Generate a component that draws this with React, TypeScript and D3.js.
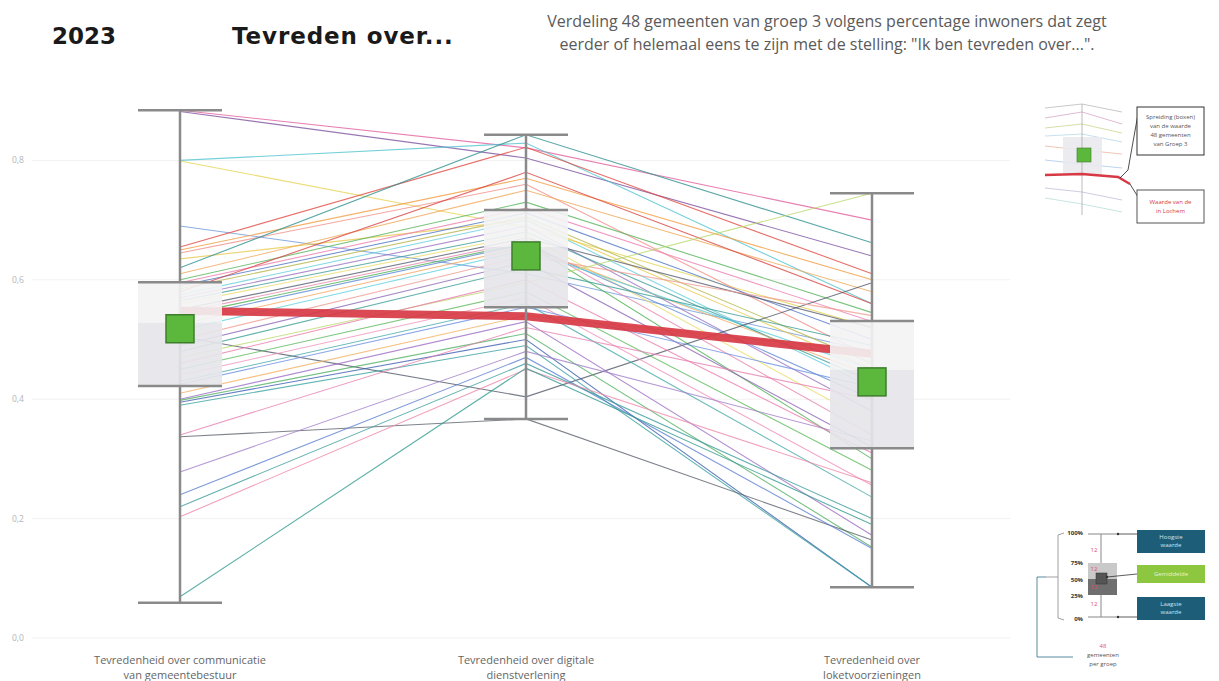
import React from "react";
import { scaleLinear, scalePoint, line } from "d3";

const width = 1219;
const height = 681;

// de drie stellingen
const categories = [
  "Tevredenheid over communicatie|van gemeentebestuur",
  "Tevredenheid over digitale|dienstverlening",
  "Tevredenheid over|loketvoorzieningen",
];

const yTicks = [0, 0.2, 0.4, 0.6, 0.8];

const minValues = [0.059, 0.367, 0.085];
const q1Values = [0.422, 0.554, 0.318];
const medianValues = [0.528, 0.655, 0.449];
const q3Values = [0.596, 0.717, 0.531];
const maxValues = [0.884, 0.843, 0.745];
const meanValues = [0.518, 0.64, 0.429];

// eigen gemeente (dikke rode lijn)
const ownValues = [0.548, 0.539, 0.476];

// 48 gemeenten: [communicatie, digitaal, loket]
const gemeenten: number[][] = [
  [0.884, 0.821, 0.7],
  [0.882, 0.804, 0.64],
  [0.8, 0.829, 0.56],
  [0.799, 0.688, 0.52],
  [0.69, 0.61, 0.48],
  [0.655, 0.822, 0.61],
  [0.65, 0.77, 0.6],
  [0.645, 0.76, 0.47],
  [0.635, 0.7, 0.45],
  [0.62, 0.843, 0.662],
  [0.61, 0.75, 0.58],
  [0.6, 0.73, 0.545],
  [0.595, 0.72, 0.53],
  [0.59, 0.712, 0.5],
  [0.585, 0.705, 0.46],
  [0.58, 0.78, 0.56],
  [0.575, 0.7, 0.42],
  [0.57, 0.69, 0.38],
  [0.565, 0.68, 0.43],
  [0.56, 0.675, 0.36],
  [0.55, 0.67, 0.52],
  [0.545, 0.665, 0.34],
  [0.54, 0.662, 0.3],
  [0.535, 0.66, 0.4],
  [0.525, 0.655, 0.44],
  [0.515, 0.65, 0.45],
  [0.505, 0.404, 0.595],
  [0.5, 0.64, 0.54],
  [0.49, 0.63, 0.32],
  [0.48, 0.62, 0.49],
  [0.47, 0.595, 0.745],
  [0.46, 0.6, 0.31],
  [0.45, 0.58, 0.281],
  [0.44, 0.57, 0.256],
  [0.43, 0.56, 0.236],
  [0.425, 0.554, 0.42],
  [0.41, 0.54, 0.48],
  [0.4, 0.53, 0.172],
  [0.398, 0.51, 0.152],
  [0.395, 0.5, 0.085],
  [0.39, 0.49, 0.085],
  [0.34, 0.52, 0.4],
  [0.337, 0.367, 0.164],
  [0.278, 0.48, 0.33],
  [0.24, 0.47, 0.15],
  [0.22, 0.46, 0.2],
  [0.203, 0.45, 0.26],
  [0.069, 0.452, 0.19],
];

const lineColors = [
  "#e25c9c", "#7b4f9e", "#4fc3cf", "#e6d450", "#6d97d8", "#e0483f",
  "#f29a3e", "#ef8c84", "#e8c84a", "#2f8f8f", "#f0a858", "#55b35a",
  "#ec7fb0", "#4a72c4", "#b5b548", "#d9423f", "#63cddb", "#9a73c0",
  "#3c9a9a", "#e9dc6a", "#555c6e", "#e886ad", "#4caf50", "#5b86d4",
  "#f4a65c", "#5ad0dc", "#4d5566", "#f09a90", "#8c67b5", "#3a9d95",
  "#b9d86a", "#ea7aa8", "#5cb85c", "#f08fb8", "#45a8a8", "#6a8fe0",
  "#f3b060", "#9b6cc4", "#4fb061", "#3c5fb0", "#3aa0a0", "#e77fb0",
  "#5a5f6a", "#a07cc8", "#5b7ed0", "#3a9a9a", "#ee86a8", "#2f9a90",
];

const legendTopText = ["Spreiding (boxen)", "van de waarde", "48 gemeenten", "van Groep 3"];
const legendRedText = ["Waarde van de", "in Lochem"];
const legendPct = ["100%", "75%", "50%", "25%", "0%"];
const legendBoxes = [
  ["Hoogste", "waarde"],
  ["Gemiddelde"],
  ["Laagste", "waarde"],
];

const x = scalePoint<string>().domain(categories).range([180, 872]);
const y = scaleLinear().domain([0, 1]).range([638, 41]);

const pathOf = line<number>()
  .x((_, i) => x(categories[i]) as number)
  .y((d) => y(d));

const boxHalf = 42;
const fontSans = "'Open Sans', 'Liberation Sans', sans-serif";

const Legends = () => {
  // kleine versie van de grafiek rechtsboven
  const miniLines = [
    [108, 104, 112], [118, 112, 124], [128, 124, 133], [136, 134, 142],
    [146, 150, 154], [160, 164, 168], [188, 192, 200], [198, 204, 212],
  ];
  const miniColors = ["#bbb", "#d8a8c8", "#c8d890", "#b8d8e8", "#e8b8a0", "#a8c8e8", "#c0c0d8", "#b8e0d8"];
  const pctY = [533, 563, 580, 596, 619];
  return (
    <g fontFamily={fontSans}>
      {miniLines.map((l, i) => (
        <polyline
          key={i}
          points={`1045,${l[0]} 1082,${l[1]} 1122,${l[2]}`}
          fill="none"
          stroke={miniColors[i]}
          strokeWidth={0.8}
        />
      ))}
      <rect x={1063} y={137} width={39} height={38} fill="#e9e9ee" opacity={0.9} />
      <line x1={1082} x2={1082} y1={104} y2={215} stroke="#aaa" strokeWidth={0.8} />
      <rect x={1077} y={148} width={14} height={14} fill="#5cb83c" stroke="#3d7a2a" strokeWidth={0.6} />
      <polyline points="1045,175 1082,174 1118,177 1130,184" fill="none" stroke="#d73a45" strokeWidth={2.5} />
      <polyline points="1120,178 1128,170 1138,114" fill="none" stroke="#222" strokeWidth={0.8} />
      <polyline points="1130,184 1138,197" fill="none" stroke="#222" strokeWidth={0.8} />
      <rect x={1137} y={107} width={67} height={48} fill="#fff" stroke="#333" strokeWidth={1} />
      {legendTopText.map((t, i) => (
        <text key={t} x={1170.5} y={119 + i * 9} fontSize={6} textAnchor="middle" fill="#555">
          {t}
        </text>
      ))}
      <rect x={1137} y={190} width={67} height={33} fill="#fff" stroke="#555" strokeWidth={1} />
      {legendRedText.map((t, i) => (
        <text key={t} x={1170.5} y={204 + i * 9} fontSize={6} textAnchor="middle" fill="#d73a45">
          {t}
        </text>
      ))}

      {/* uitleg boxplot rechtsonder */}
      <line x1={1101} x2={1101} y1={534} y2={617} stroke="#888" strokeWidth={1} />
      <line x1={1088} x2={1117} y1={534} y2={534} stroke="#888" strokeWidth={1} />
      <line x1={1088} x2={1117} y1={617} y2={617} stroke="#888" strokeWidth={1} />
      <rect x={1088} y={563} width={29} height={16} fill="#c9c9c9" />
      <rect x={1088} y={579} width={29} height={16} fill="#6f6f6f" />
      <rect x={1096} y={573} width={11} height={11} fill="#555" stroke="#333" strokeWidth={0.5} />
      {[552, 571, 589, 606].map((yy) => (
        <text key={yy} x={1094} y={yy} fontSize={6} fill="#e0506a" textAnchor="middle">
          12
        </text>
      ))}
      {legendPct.map((t, i) => (
        <text key={t} x={1083} y={pctY[i] + 2} fontSize={6} fill="#333" textAnchor="end" fontWeight="bold">
          {t}
        </text>
      ))}
      <polyline points="1064,533 1058,535 1058,618 1064,620" fill="none" stroke="#888" strokeWidth={0.8} />
      <line x1={1046} x2={1058} y1={577} y2={577} stroke="#888" strokeWidth={0.8} />
      <polyline points="1046,577 1037,577 1037,657 1073,657" fill="none" stroke="#2f6f8a" strokeWidth={0.8} />
      <text x={1103} y={648} fontSize={6} fill="#e0506a" textAnchor="middle">48</text>
      <text x={1103} y={657} fontSize={6} fill="#555" textAnchor="middle">gemeenten</text>
      <text x={1103} y={666} fontSize={6} fill="#555" textAnchor="middle">per groep</text>
      {[534, 574, 617].map((yy, i) => (
        <g key={yy}>
          <line x1={1137} x2={i === 1 ? 1107 : 1118} y1={yy} y2={i === 1 ? 577 : yy} stroke="#333" strokeWidth={0.8} />
          <circle cx={i === 1 ? 1107 : 1118} cy={i === 1 ? 577 : yy} r={1.2} fill="#333" />
        </g>
      ))}
      {legendBoxes.map((lines, i) => {
        const top = [530, 565, 597][i];
        const h = i === 1 ? 18 : 23;
        return (
          <g key={i}>
            <rect x={1137} y={top} width={68} height={h} fill={i === 1 ? "#8dc63f" : "#1d5d78"} />
            {lines.map((t, j) => (
              <text
                key={t}
                x={1171}
                y={top + (lines.length === 1 ? 11 : 9 + j * 8)}
                fontSize={6}
                fill={i === 1 ? "#e8f5d0" : "#cfe3ec"}
                textAnchor="middle"
              >
                {t}
              </text>
            ))}
          </g>
        );
      })}
    </g>
  );
};

export default function App() {
  return (
    <svg
      width={width}
      height={height}
      style={{ position: "absolute", left: 0, top: 0, background: "#fff" }}
    >
      {/* titels */}
      <text x={52} y={44} fontFamily="'DejaVu Sans', sans-serif" fontWeight="bold" fontSize={23} fill="#1a1a1a">
        2023
      </text>
      <text
        x={232}
        y={44}
        fontFamily="'DejaVu Sans', sans-serif"
        fontWeight="bold"
        fontSize={23}
        letterSpacing={0.9}
        fill="#1a1a1a"
      >
        Tevreden over...
      </text>
      <text x={827} y={27} fontFamily={fontSans} fontSize={16} fill="#5a5a5a" textAnchor="middle">
        Verdeling 48 gemeenten van groep 3 volgens percentage inwoners dat zegt
      </text>
      <text x={827} y={50} fontFamily={fontSans} fontSize={16} fill="#5a5a5a" textAnchor="middle">
        eerder of helemaal eens te zijn met de stelling: "Ik ben tevreden over...".
      </text>

      {/* rasterlijnen */}
      {yTicks.map((t) => (
        <g key={t}>
          <line x1={32} x2={1010} y1={y(t)} y2={y(t)} stroke="#f1f1f1" strokeWidth={1} />
          <text x={12} y={y(t) + 3} fontSize={8.5} fontFamily={fontSans} fill="#b5b5b5">
            {t.toFixed(1).replace(".", ",")}
          </text>
        </g>
      ))}

      {/* gemeenten */}
      {gemeenten.map((d, i) => (
        <path
          key={i}
          d={pathOf(d) ?? ""}
          fill="none"
          stroke={lineColors[i % lineColors.length]}
          strokeWidth={1.1}
          strokeOpacity={0.78}
        />
      ))}
      <path d={pathOf(ownValues) ?? ""} fill="none" stroke="#d73a45" strokeWidth={8} strokeOpacity={0.92} />

      {/* boxplots */}
      {categories.map((c, i) => {
        const cx = x(c) as number;
        return (
          <g key={c}>
            <line x1={cx} x2={cx} y1={y(maxValues[i])} y2={y(minValues[i])} stroke="#8a8a8a" strokeWidth={2.5} />
            <rect
              x={cx - boxHalf}
              y={y(q3Values[i])}
              width={boxHalf * 2}
              height={y(medianValues[i]) - y(q3Values[i])}
              fill="#f3f3f4"
              fillOpacity={0.9}
            />
            <rect
              x={cx - boxHalf}
              y={y(medianValues[i])}
              width={boxHalf * 2}
              height={y(q1Values[i]) - y(medianValues[i])}
              fill="#e6e6ea"
              fillOpacity={0.9}
            />
            {[maxValues[i], q3Values[i], q1Values[i], minValues[i]].map((v, k) => (
              <line
                key={k}
                x1={cx - boxHalf}
                x2={cx + boxHalf}
                y1={y(v)}
                y2={y(v)}
                stroke="#8a8a8a"
                strokeWidth={2.5}
              />
            ))}
            <rect
              x={cx - 14}
              y={y(meanValues[i]) - 14}
              width={28}
              height={28}
              fill="#5cb83c"
              stroke="#3f7d2d"
              strokeWidth={1.5}
            />
            {c.split("|").map((t, k) => (
              <text
                key={t}
                x={cx}
                y={664 + k * 15}
                fontFamily={fontSans}
                fontSize={11}
                fill="#666"
                textAnchor="middle"
              >
                {t}
              </text>
            ))}
          </g>
        );
      })}

      <Legends />
    </svg>
  );
}
